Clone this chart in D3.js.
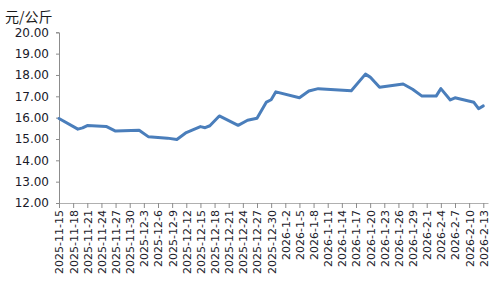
<!DOCTYPE html>
<html><head><meta charset="utf-8">
<script src="https://cdn.jsdelivr.net/npm/d3@7"></script>
<style>
html,body{margin:0;padding:0;background:#fff;}
svg{display:block;}
</style></head>
<body>
<svg id="c" width="500" height="300"></svg>
<script>
// Data: observed dates (day offset strings) and prices (元/公斤)
const dates = [
 "2025-11-15","2025-11-19","2025-11-20","2025-11-21","2025-11-25","2025-11-27",
 "2025-12-02","2025-12-04","2025-12-08","2025-12-10","2025-12-12","2025-12-15",
 "2025-12-16","2025-12-17","2025-12-19","2025-12-23","2025-12-25","2025-12-27",
 "2025-12-29","2025-12-30","2025-12-31","2026-01-05","2026-01-07","2026-01-09",
 "2026-01-16","2026-01-19","2026-01-20","2026-01-22","2026-01-27","2026-01-29",
 "2026-01-31","2026-02-03","2026-02-04","2026-02-06","2026-02-07","2026-02-11",
 "2026-02-12","2026-02-13"
];
const prices = [
 15.96,15.46,15.52,15.63,15.59,15.37,
 15.41,15.10,15.04,14.98,15.30,15.58,
 15.53,15.62,16.08,15.64,15.88,15.97,
 16.73,16.84,17.21,16.93,17.25,17.36,
 17.26,18.04,17.90,17.42,17.58,17.33,
 17.01,17.01,17.36,16.83,16.93,16.72,
 16.42,16.55
];
const yTicks = [12,13,14,15,16,17,18,19,20];
const yUnit = "元/公斤";
const axisStart = "2025-11-15", axisEnd = "2026-02-14", tickStepDays = 3, lastTick = "2026-02-13";

const parse = d3.utcParse("%Y-%m-%d");
const data = dates.map((d,i)=>({date:parse(d), v:prices[i]}));

const svg = d3.select("#c");
const x = d3.scaleUtc().domain([parse(axisStart), parse(axisEnd)]).range([59, 488]);
const y = d3.scaleLinear().domain([12,20]).range([203, 32.3]);

const tickDates = d3.utcDay.range(parse(axisStart), d3.utcDay.offset(parse(lastTick),1), tickStepDays);
const fmt = d => `${d.getUTCFullYear()}-${d.getUTCMonth()+1}-${d.getUTCDate()}`;

// y axis
const ya = svg.append("g").attr("transform","translate(59,0)")
  .call(d3.axisLeft(y).tickValues(yTicks).tickFormat(d3.format(".2f")).tickSize(3).tickPadding(7));
ya.select(".domain").attr("stroke","#8c8c8c");
ya.selectAll(".tick line").attr("stroke","#8c8c8c");
ya.selectAll("text").attr("font-family","DejaVu Sans").attr("font-size",12).attr("fill","#1a1a2a");

// x axis
const xa = svg.append("g").attr("transform","translate(0,203)")
  .call(d3.axisBottom(x).tickValues(tickDates).tickFormat(fmt).tickSizeInner(5).tickSizeOuter(0));
xa.select(".domain").attr("stroke","#b0b0b0");
xa.selectAll(".tick line").attr("stroke","#8c8c8c");
xa.selectAll("text")
  .attr("font-family","DejaVu Sans").attr("font-size",11).attr("fill","#1a1a2a")
  .attr("transform","rotate(-90)")
  .attr("text-anchor","end")
  .attr("x",-7).attr("y",0).attr("dy","0.35em");

// unit label
svg.append("text").attr("x",5).attr("y",22)
  .attr("font-family","Noto Sans CJK SC").attr("font-size",14).attr("fill","#1a1a1a")
  .text(yUnit);

// line
svg.append("path").datum(data)
  .attr("fill","none").attr("stroke","#4a7ebb").attr("stroke-width",3)
  .attr("stroke-linejoin","round").attr("stroke-linecap","round")
  .attr("d", d3.line().x(d=>x(d.date)).y(d=>y(d.v)));
</script>
</body></html>
